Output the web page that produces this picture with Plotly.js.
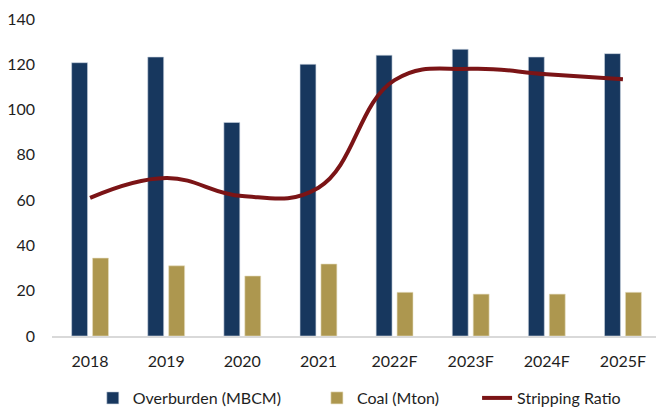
<!DOCTYPE html>
<html>
<head>
<meta charset="utf-8">
<script src="https://cdn.plot.ly/plotly-3.0.1.min.js"></script>
<style>
html,body{margin:0;padding:0;overflow:hidden;background:#fff;}
#chart{width:661px;height:409px;}
</style>
</head>
<body>
<div id="chart"></div>
<script>
var categories = ["2018","2019","2020","2021","2022F","2023F","2024F","2025F"];
var overburden = [120.7,123.2,94.3,120.0,124.0,126.6,123.2,124.7];
var coal = [34.4,31.0,26.5,31.8,19.3,18.5,18.5,19.3];
var strippingRatio = [61.0,69.8,61.8,65.5,113.0,118.0,115.6,113.4];
var yTicks = [0,20,40,60,80,100,120,140];

var font = {family:"Lato, 'Open Sans', sans-serif", size:16, color:"#1e1e1e"};

var traces = [
  {type:"bar", name:"Overburden (MBCM)", x:categories, y:overburden, legend:"legend",
   marker:{color:"#17375E", line:{color:"#C9D3DF", width:0.6}}},
  {type:"bar", name:"Coal (Mton)", x:categories, y:coal, legend:"legend2",
   marker:{color:"#AD974F", line:{color:"#E6DDBF", width:0.6}}},
  {type:"scatter", mode:"lines", name:"Stripping Ratio", x:categories, y:strippingRatio, legend:"legend3",
   line:{color:"#7B1416", width:4, shape:"spline", smoothing:1.2}}
];

function leg(x){
  return {orientation:"h", x:x, xanchor:"left", y:-0.142, yanchor:"top",
          font:font, itemwidth:30, bgcolor:"rgba(0,0,0,0)"};
}

var layout = {
  width:661, height:409,
  margin:{l:52, r:0, t:19, b:73, autoexpand:false},
  paper_bgcolor:"#fff", plot_bgcolor:"#fff",
  font:font,
  barmode:"group", bargap:0.45, bargroupgap:0.24,
  xaxis:{type:"category", showgrid:false, zeroline:false, showline:true,
         linecolor:"#D9D9D9", linewidth:1.5, ticks:"", ticklabelstandoff:10,
         tickfont:font, fixedrange:true, automargin:false},
  yaxis:{range:[0,140], tickvals:yTicks, showgrid:false, zeroline:false, showline:false,
         ticks:"", ticklabelstandoff:16, tickfont:font, fixedrange:true, automargin:false},
  showlegend:true,
  legend:leg(0.067),
  legend2:leg(0.435),
  legend3:leg(0.698)
};

Plotly.newPlot("chart", traces, layout, {displayModeBar:false, staticPlot:true});
</script>
</body>
</html>
